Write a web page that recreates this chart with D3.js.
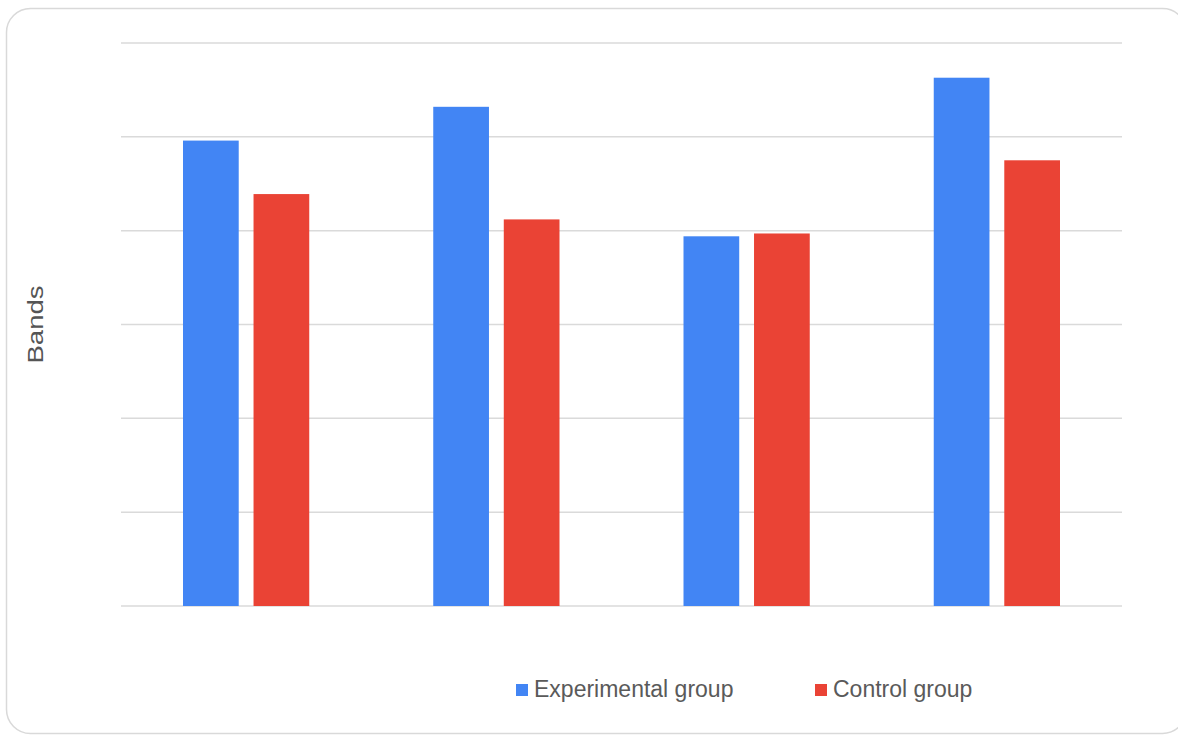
<!DOCTYPE html>
<html>
<head>
<meta charset="utf-8">
<script src="https://cdn.jsdelivr.net/npm/d3@7"></script>
<style>
    body { margin: 0; background: #fff; }
    svg { display: block; font-family: "Liberation Sans", Arial, sans-serif; }
</style>
</head>
<body>
<div id="chart"></div>
<script>
// Chart data (no category labels are shown on the axis)
const categories = ["Group 1", "Group 2", "Group 3", "Group 4"];
const experimental = [4.96, 5.32, 3.94, 5.63];
const control = [4.39, 4.12, 3.97, 4.75];
const yTicks = [0, 1, 2, 3, 4, 5, 6];

const series = [
    {key: "experimental", name: "Experimental group", color: "#4285F4", values: experimental},
    {key: "control", name: "Control group", color: "#EA4335", values: control}
];

const width = 1178;
const height = 735;
const margin = {top: 43, right: 56, bottom: 129, left: 121};
const plotW = width - margin.left - margin.right;
const plotH = height - margin.top - margin.bottom;

const svg = d3.select("#chart")
    .append("svg")
    .attr("width", width)
    .attr("height", height);

// Card frame
svg.append("rect")
    .attr("x", 6.5)
    .attr("y", 8.5)
    .attr("width", 1180)
    .attr("height", 725)
    .attr("rx", 24)
    .attr("fill", "#fff")
    .attr("stroke", "#d9d9d9")
    .attr("stroke-width", 1.5);

const g = svg.append("g")
    .attr("transform", `translate(${margin.left},${margin.top})`);

// Scales
const x0 = d3.scaleBand()
    .domain(categories)
    .range([0, plotW])
    .padding(0);

const x1 = d3.scaleBand()
    .domain(series.map(s => s.key))
    .range([62, x0.bandwidth() - 62])
    .paddingInner(0.21);

const y = d3.scaleLinear()
    .domain([0, 6])
    .range([plotH, 0]);

// Gridlines
g.append("g")
    .selectAll("line")
    .data(yTicks)
    .enter()
    .append("line")
    .attr("x1", 0)
    .attr("x2", plotW)
    .attr("y1", d => y(d))
    .attr("y2", d => y(d))
    .attr("stroke", "#dadada")
    .attr("stroke-width", 1.5);

// Bars
const groups = g.append("g")
    .selectAll("g")
    .data(categories)
    .enter()
    .append("g")
    .attr("transform", d => `translate(${x0(d)},0)`);

groups.selectAll("rect")
    .data((d, i) => series.map(s => ({key: s.key, color: s.color, value: s.values[i]})))
    .enter()
    .append("rect")
    .attr("x", d => x1(d.key))
    .attr("y", d => y(d.value))
    .attr("width", x1.bandwidth())
    .attr("height", d => y(0) - y(d.value))
    .attr("fill", d => d.color);

// Y axis title
svg.append("text")
    .attr("transform", `translate(43,${margin.top + plotH / 2}) rotate(-90)`)
    .attr("text-anchor", "middle")
    .attr("textLength", 78)
    .attr("lengthAdjust", "spacingAndGlyphs")
    .style("font-size", "22px")
    .style("fill", "#555")
    .text("Bands");

// Legend
const legendItems = [
    {x: 516, s: series[0]},
    {x: 815, s: series[1]}
];

const legend = svg.append("g");

legend.selectAll("rect")
    .data(legendItems)
    .enter()
    .append("rect")
    .attr("x", d => d.x)
    .attr("y", 684)
    .attr("width", 12)
    .attr("height", 12)
    .attr("fill", d => d.s.color);

legend.selectAll("text")
    .data(legendItems)
    .enter()
    .append("text")
    .attr("x", d => d.x + 18)
    .attr("y", 697)
    .style("font-size", "23px")
    .style("fill", "#5a5a5a")
    .text(d => d.s.name);
</script>
</body>
</html>
